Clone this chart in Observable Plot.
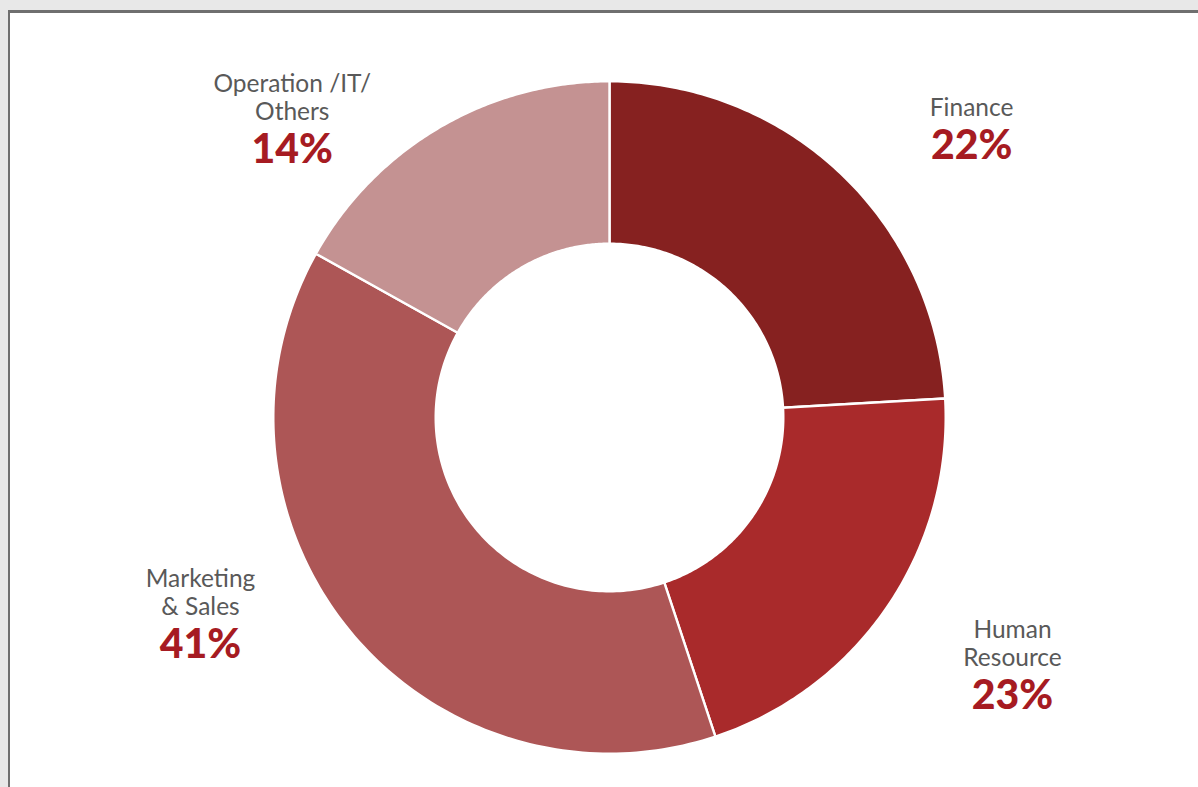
<!DOCTYPE html>
<html><head><meta charset="utf-8">
<script src="https://cdn.jsdelivr.net/npm/d3@7"></script>
<script src="https://cdn.jsdelivr.net/npm/@observablehq/plot@0.6"></script>
<style>
html,body{margin:0;padding:0;background:#e8e8e8;width:1198px;height:787px;overflow:hidden}
#box{position:absolute;left:8px;top:10px;width:1300px;height:900px;background:#fff;border:2px solid #6f6f6f;border-top-width:3px;box-sizing:border-box}
#chart{position:absolute;left:0;top:0}
</style></head><body><div id="box"></div><div id="chart"></div>
<script>
// ---- data ----
const categories = ["Finance", "Human Resource", "Marketing & Sales", "Operation /IT/ Others"];
const nameLines = ["Finance", "Human\nResource", "Marketing\n& Sales", "Operation /IT/\nOthers"];
const shares = [24.1, 20.8, 38.2, 16.9];           // slice sizes as drawn
const percentLabels = ["22%", "23%", "41%", "14%"]; // printed labels
const colors = ["#862120", "#a92a2b", "#ad5656", "#c49292"];
// label layout (polar, degrees clockwise from top, radius in outer-radius units)
const labelAngle = [50.2, 121.7, 244.2, 313.2];
const labelRadius = [1.407, 1.414, 1.356, 1.299];

// ---- geometry ----
const R = 335, cx = 609, cy = 417, W = 1198, H = 787;
const rOuter = 1 + 1.2 / R, rInner = 173.8 / R;
const arcs = d3.pie().sort(null).value(d => d)(shares);
const arcPts = [];
arcs.forEach((a, i) => {
  const n = 120;
  for (let k = 0; k <= n; k++) {
    const t = a.startAngle + (a.endAngle - a.startAngle) * k / n;
    arcPts.push({cat: categories[i], u: rOuter * Math.sin(t), v: rOuter * Math.cos(t)});
  }
  for (let k = n; k >= 0; k--) {
    const t = a.startAngle + (a.endAngle - a.startAngle) * k / n;
    arcPts.push({cat: categories[i], u: rInner * Math.sin(t), v: rInner * Math.cos(t)});
  }
});
const labels = categories.map((c, i) => {
  const t = labelAngle[i] * Math.PI / 180;
  return {cat: c, name: nameLines[i], pct: percentLabels[i],
          u: labelRadius[i] * Math.sin(t), v: labelRadius[i] * Math.cos(t)};
});

const chart = Plot.plot({
  width: W, height: H, margin: 0,
  style: {background: "transparent", overflow: "visible"},
  x: {domain: [-cx / R, (W - cx) / R], axis: null},
  y: {domain: [-(H - cy) / R, cy / R], axis: null},
  color: {domain: categories, range: colors},
  marks: [
    Plot.line(arcPts, {x: "u", y: "v", z: "cat", fill: "cat", stroke: "white", strokeWidth: 2.4, curve: "linear-closed"}),
    Plot.text(labels, {x: "u", y: "v", text: "name", lineAnchor: "bottom", fontSize: 24.5, lineHeight: 28 / 24.5,
      fill: "#595959", fontFamily: "Lato, 'Open Sans', sans-serif"}),
    Plot.text(labels, {x: "u", y: "v", text: "pct", lineAnchor: "bottom", dy: 43, fontSize: 41, fontWeight: 900,
      fill: "#a61b22", fontFamily: "Lato, 'Open Sans', sans-serif"})
  ]
});
document.getElementById("chart").appendChild(chart);
</script></body></html>
